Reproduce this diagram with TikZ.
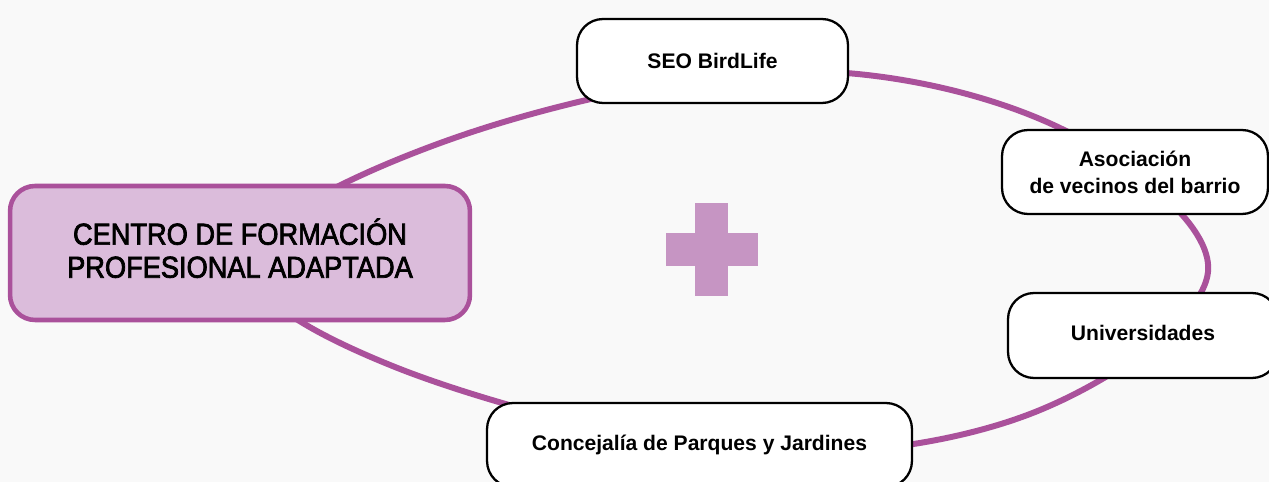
\documentclass[tikz,border=0pt]{standalone}
\usepackage{fontspec}
\setmainfont{Liberation Sans}
\newfontfamily\titlefont[FakeBold=2.4, FakeStretch=0.9]{Liberation Sans}
\definecolor{bg}{HTML}{F9F9F9}
\definecolor{ring}{HTML}{AA519B}
\definecolor{mainfill}{HTML}{DBBCDB}
\definecolor{plus}{HTML}{C695C3}
\tikzset{
  ringline/.style={draw=ring, line width=3.4pt},
  mainbox/.style={draw=ring, fill=mainfill, line width=2.6pt, rounded corners=0.5cm,
     minimum width=9.2cm, minimum height=2.68cm, align=center,
     font=\titlefont\fontsize{17.2}{18.8}\selectfont},
  partner/.style={draw=black, fill=white, line width=1.3pt, rounded corners=0.52cm,
     minimum height=1.68cm, align=center, font=\bfseries\fontsize{12}{15.3}\selectfont},
}
\begin{document}
\begin{tikzpicture}[x=0.02cm, y=-0.02cm]
\fill[bg] (0,0) rectangle (1269,482);
\useasboundingbox (0,0) rectangle (1269,482);
% ring
\draw[ringline] plot[smooth cycle, tension=0.6] coordinates {
  (250,255) (463,135) (790,71) (1060,128)
  (1208,272) (1030,414) (740,451) (395,367)};
% plus sign
\fill[plus] (695,203) rectangle (728,296);
\fill[plus] (666,233) rectangle (758,266);
% nodes
\node[mainbox] (centro) at (240,253) {\raisebox{0.05cm}{\begin{tabular}{@{}c@{}}CENTRO DE FORMACIÓN\\PROFESIONAL ADAPTADA\end{tabular}}};
\node[partner, minimum width=5.42cm] (seo) at (712.5,61) {SEO BirdLife};
\node[partner, minimum width=5.32cm] (asoc) at (1135,172) {Asociación\\de vecinos del barrio};
\node[partner, minimum width=5.4cm, minimum height=1.7cm] (uni) at (1143,335.5) {\raisebox{0.11cm}{Universidades}};
\node[partner, minimum width=8.5cm] (conc) at (699.5,445) {Concejalía de Parques y Jardines};
\end{tikzpicture}
\end{document}
